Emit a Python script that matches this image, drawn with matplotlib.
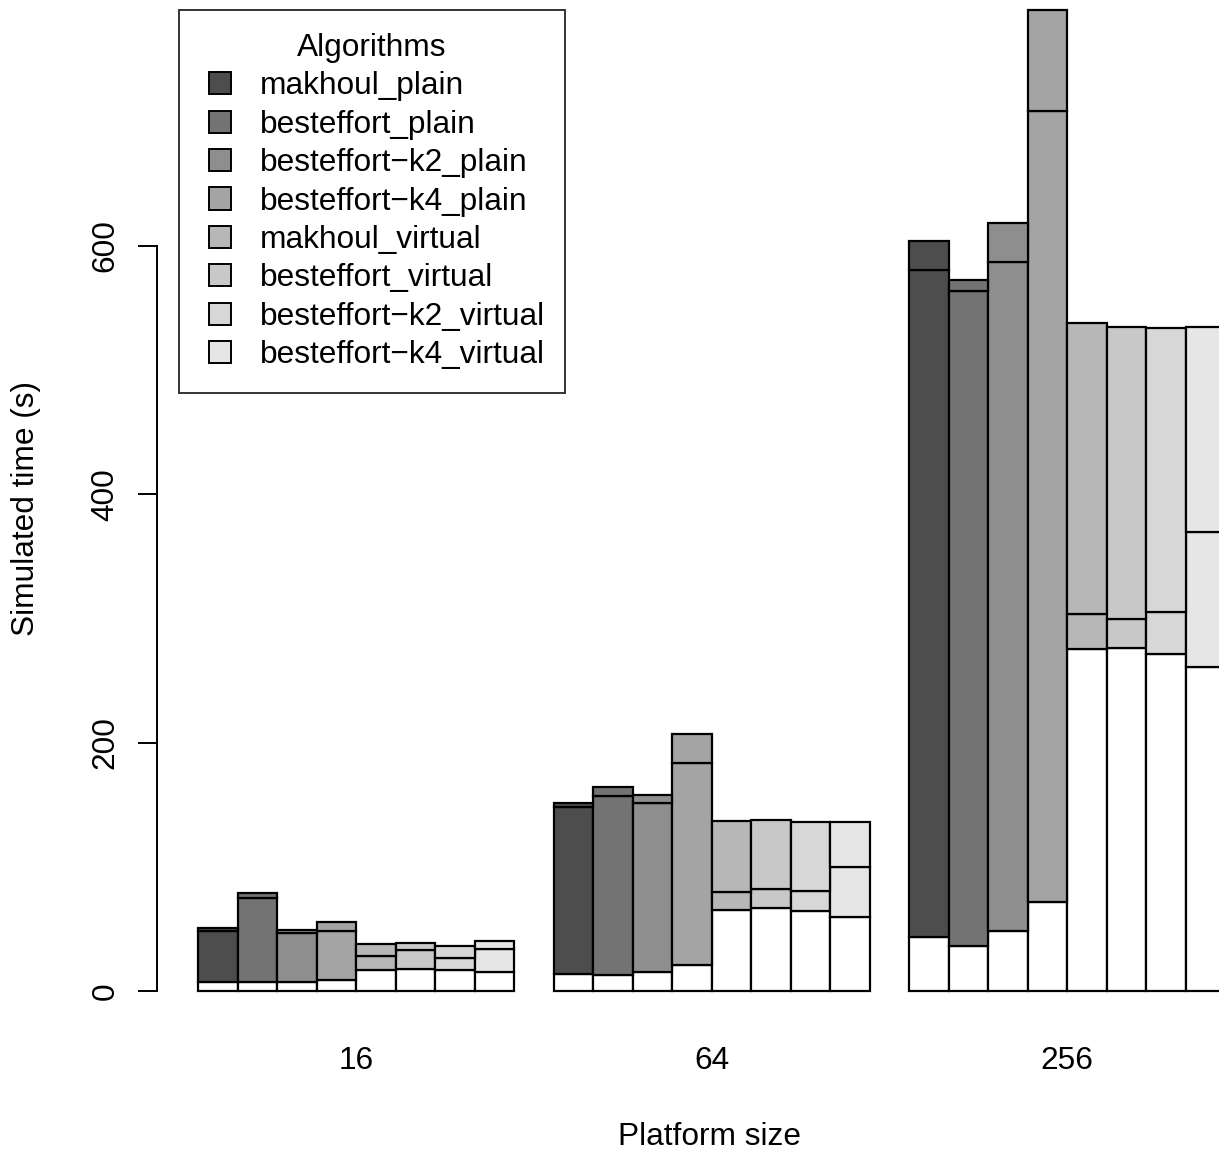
import matplotlib
matplotlib.use("Agg")
import matplotlib.pyplot as plt
import matplotlib.patches as mpatches
from matplotlib.legend_handler import HandlerPatch
import numpy as np

plt.rcParams['font.family'] = ['Liberation Sans', 'DejaVu Sans']

sizes = ["16", "64", "256"]
algorithms = ["makhoul_plain", "besteffort_plain", "besteffort\u2212k2_plain",
              "besteffort\u2212k4_plain", "makhoul_virtual", "besteffort_virtual",
              "besteffort\u2212k2_virtual", "besteffort\u2212k4_virtual"]

# lower (white) segment top, middle segment top, total bar height, per platform size
lower_16 = [7.0, 7.0, 7.5, 8.6, 16.9, 17.7, 16.9, 15.1]
middle_16 = [48.3, 74.6, 46.7, 48.3, 28.2, 33.3, 26.6, 33.6]
total_16 = [50.7, 78.7, 49.1, 55.8, 37.9, 38.9, 36.0, 40.0]

lower_64 = [13.7, 12.6, 15.3, 20.7, 65.5, 66.8, 64.7, 59.6]
middle_64 = [147.9, 157.3, 151.2, 183.4, 80.0, 81.9, 80.5, 100.1]
total_64 = [151.7, 164.5, 158.1, 207.2, 137.2, 138.0, 136.1, 136.1]

lower_256 = [43.7, 36.0, 48.1, 71.4, 275.4, 276.0, 271.4, 260.7]
middle_256 = [580.4, 564.0, 587.4, 709.0, 303.9, 299.6, 305.2, 369.7]
total_256 = [604.3, 572.6, 618.8, 790.1, 537.7, 535.0, 534.0, 535.0]

lowers = [lower_16, lower_64, lower_256]
middles = [middle_16, middle_64, middle_256]
totals = [total_16, total_64, total_256]

yticks = [0, 200, 400, 600]

# R-like gray.colors(8, start=0.3, end=0.9)
gamma = 2.2
levels = np.linspace(0.3 ** gamma, 0.9 ** gamma, len(algorithms)) ** (1 / gamma)
colors = [(v, v, v) for v in levels]

W, H = 1219, 1151
fig = plt.figure(figsize=(W / 100, H / 100), dpi=100)
ax = fig.add_axes([0, (H - 1000) / H, 1, 1000 / H])

px_per_unit = 1.2417
ax.set_ylim(-9 / px_per_unit, 991 / px_per_unit)
ax.set_xlim(-158.5 / 39.5, (W - 158.5) / 39.5)

lw = 1.6
n = len(algorithms)
centers = []
for g in range(len(sizes)):
    xs = np.arange(n) + 1 + g * (n + 1) + 0.5
    centers.append(xs.mean())
    low = np.array(lowers[g])
    mid = np.array(middles[g])
    tot = np.array(totals[g])
    ax.bar(xs, low, width=1, color='white', edgecolor='black', linewidth=lw)
    ax.bar(xs, mid - low, bottom=low, width=1, color=colors, edgecolor='black', linewidth=lw)
    ax.bar(xs, tot - mid, bottom=mid, width=1, color=colors, edgecolor='black', linewidth=lw)

for s in ['top', 'right', 'bottom']:
    ax.spines[s].set_visible(False)
ax.spines['left'].set_position(('data', -0.04))
ax.spines['left'].set_bounds(0, 600)
ax.spines['left'].set_linewidth(1.4)

fs = 22.8
fs_px = fs * 100 / 72
ax.set_yticks(yticks)
ax.set_yticklabels([str(t) for t in yticks], fontsize=fs)
ax.tick_params(axis='y', length=13.7, width=1.4, pad=12.5, labelrotation=90)
for lab in ax.get_yticklabels():
    lab.set_va('center')

ax.set_xticks(centers)
ax.set_xticklabels(sizes, fontsize=fs)
ax.tick_params(axis='x', length=0, pad=33.3)

ax.set_xlabel("Platform size", fontsize=fs, va='center', ha='center')
ax.xaxis.set_label_coords(710 / W, -(1137 - 1000) / 1000)
ax.set_ylabel("Simulated time (s)", fontsize=fs, va='center', ha='center', rotation_mode='default')
ax.yaxis.set_label_coords(26 / W, (1000 - 508) / 1000)


def make_square(legend, orig_handle, xdescent, ydescent, width, height, fontsize):
    side = height
    return mpatches.Rectangle((-xdescent + width - side, -ydescent), side, side)


handles = [mpatches.Patch(facecolor=c, edgecolor='black', linewidth=1.4) for c in colors]
leg = ax.legend(handles, algorithms, title="Algorithms", fontsize=fs, title_fontsize=fs,
                loc='upper left', mode='expand',
                bbox_to_anchor=(179 / W, (H - 393) / H, 386 / W, 383 / H),
                bbox_transform=fig.transFigure, borderaxespad=0,
                borderpad=23 / fs_px, labelspacing=8.4 / fs_px,
                handlelength=29 / fs_px, handleheight=22 / fs_px,
                handletextpad=29 / fs_px, fancybox=False, frameon=True,
                handler_map={mpatches.Patch: HandlerPatch(patch_func=make_square)})
leg.get_frame().set_edgecolor('black')
leg.get_frame().set_linewidth(1.4)

fig.savefig("out.png", dpi=100)
